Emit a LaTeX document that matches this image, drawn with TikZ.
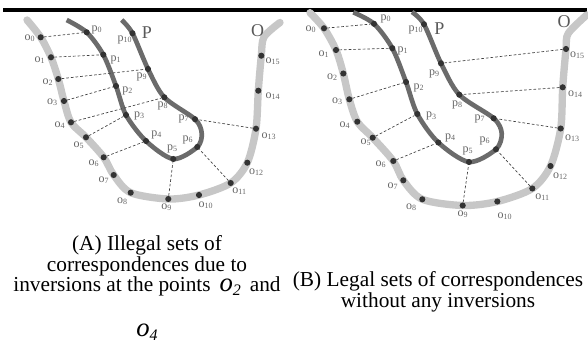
\documentclass[tikz,border=0pt]{standalone}
\usepackage{fontspec}
\setmainfont{Liberation Serif}
\usepackage{xcolor,tikz}

\newcommand{\ovar}[1]{{\fontsize{20}{20}\selectfont\textit{o}}{\fontsize{12}{12}\selectfont\raisebox{-3pt}{\textit{#1}}}}

\begin{document}
\begin{tikzpicture}[x=0.75pt,y=-0.75pt,
  ocurve/.style={line width=5.5pt,black!22,line cap=round},
  pcurve/.style={line width=3.5pt,black!58},
  ptdot/.style={circle,fill=black!80,inner sep=0pt,minimum size=4.6pt},
  lab/.style={text=black!60,inner sep=0pt,font=\fontsize{9}{10}\selectfont},
  biglab/.style={text=black!65,inner sep=0pt,font=\fontsize{13.5}{14}\selectfont},
  corr/.style={black!75,line width=0.5pt,dash pattern=on 2pt off 1.5pt},
  capt/.style={align=center,inner sep=0pt}]
\useasboundingbox (0,0) rectangle (588,349);
\draw[line width=3pt] (3,10.3) -- (587,10.3);

% (A) illegal correspondences
\foreach \i/\x/\y in {0/40.7/37.3,1/51/57.3,2/58.3/79,3/64/101,4/71/122.3,5/86/137.3,6/103.7/157.3,7/113.7/175,
  8/130.7/192.7,9/168.3/199,10/199/195,11/230.7/183,12/247.3/162.7,13/256/128.7,14/258.3/90.7,15/261.3/55.7}
  {\coordinate (cao\i) at (\x,\y);}
\foreach \i/\x/\y in {0/86.7/32.3,1/103.3/54.7,2/116/86,3/126/115,4/146/141,5/173.3/159,6/197.3/147,
  7/195/119.2,8/164.3/97.3,9/148/69,10/132.5/33.3}
  {\coordinate (cap\i) at (\x,\y);}
\draw[ocurve] plot[smooth] coordinates {(27,20) (cao0) (cao1) (cao2) (cao3) (cao4) (cao5) (cao6) (cao7)
  (cao8) (cao9) (cao10) (cao11) (cao12) (cao13) (cao14) (cao15) (264,37) (280,22.5)};
\draw[pcurve] plot[smooth] coordinates {(66.7,20) (cap0) (cap1) (cap2) (cap3) (cap4) (cap5) (cap6)
  (201.7,133.3) (cap7) (cap8) (cap9) (cap10) (121.7,20)};
\foreach \i in {0,...,15} {\node[ptdot] (ao\i) at (cao\i) {};}
\foreach \i in {0,...,10} {\node[ptdot] (ap\i) at (cap\i) {};}
\foreach \a/\b in {0/0,1/1,2/9,3/2,4/8,5/3,6/4,9/5,11/6,13/7} {\draw[corr] (ao\a) -- (ap\b);}
\foreach \i/\x/\y in {0/30/38,1/40/60,2/48/82,3/52.5/102.5,4/60/125.5,5/79/145,6/94/163,7/104/180,
  8/122.5/201.5,9/166.7/207,10/206/205,11/239.5/191.5,12/256.5/172,13/269/136.5,14/273/96.5,15/273/61.5}
  {\node[lab] (aol\i) at (\x,\y) {o\textsubscript{\i}};}
\foreach \i/\x/\y in {0/97/30,1/116/60,2/127.7/91,3/139.5/116,4/156.7/135,5/172.5/149,6/188/140,
  7/184/118.5,8/163/106,9/142/76.5,10/125/39.5}
  {\node[lab] (apl\i) at (\x,\y) {p\textsubscript{\i}};}
\node[biglab] (aP) at (147,32.5) {P};
\node[biglab] (aO) at (257.5,31) {O};

% (B) legal correspondences
\foreach \i/\x/\y in {0/324/28.3,1/336/50,2/343.3/73.5,3/349.3/99.3,4/357.3/121.7,5/372.7/137.7,6/393.3/161,
  7/403.3/180.3,8/422.3/199.3,9/462.7/205.5,10/497.3/201.5,11/532.3/188.5,12/550.5/166,13/560.7/128.5,
  14/562.7/87.3,15/566/49}
  {\coordinate (cbo\i) at (\x,\y);}
\foreach \i/\x/\y in {0/374/23.8,1/392.3/48.2,2/406/82,3/417.3/114,4/438.3/142.5,5/469/162,6/496/149.3,
  7/493.7/118.3,8/459.3/94.7,9/441/63.3,10/424/24.3}
  {\coordinate (cbp\i) at (\x,\y);}
\draw[ocurve] plot[smooth] coordinates {(310,12.7) (cbo0) (cbo1) (cbo2) (cbo3) (cbo4) (cbo5) (cbo6) (cbo7)
  (cbo8) (cbo9) (cbo10) (cbo11) (cbo12) (cbo13) (cbo14) (cbo15) (568.3,33.3) (586.7,15)};
\draw[pcurve] plot[smooth] coordinates {(353.3,12.3) (cbp0) (cbp1) (cbp2) (cbp3) (cbp4) (cbp5) (cbp6)
  (501.7,133.3) (cbp7) (cbp8) (cbp9) (cbp10) (412,12)};
\foreach \i in {0,...,15} {\node[ptdot] (bo\i) at (cbo\i) {};}
\foreach \i in {0,...,10} {\node[ptdot] (bp\i) at (cbp\i) {};}
\foreach \a/\b in {0/0,1/1,3/2,5/3,6/4,9/5,11/6,13/7,14/8,15/9} {\draw[corr] (bo\a) -- (bp\b);}
\foreach \i/\x/\y in {0/311/29,1/324/54,2/332.5/77.5,3/337.5/101,4/345/125,5/366/142.5,6/381/164,7/393/186,
  8/411.5/207.5,9/463/214.5,10/505/216,11/542.5/197.5,12/560.5/176,13/572.5/138,14/575.5/94,15/577.5/55}
  {\node[lab] (bol\i) at (\x,\y) {o\textsubscript{\i}};}
\foreach \i/\x/\y in {0/386/18.5,1/403/51,2/419/87.5,3/431.5/116.3,4/450.5/138,5/468/151,6/485/141,
  7/480/119,8/457.5/104.5,9/434.5/74,10/416/30}
  {\node[lab] (bpl\i) at (\x,\y) {p\textsubscript{\i}};}
\node[biglab] (bP) at (439.3,28.3) {P};
\node[biglab] (bO) at (564,21.7) {O};

% captions
\node[capt,anchor=north,font=\fontsize{16}{15.6}\selectfont] (capA) at (147,235)
 {(A) Illegal sets of\\correspondences due to\\inversions at the points \,\ovar{2}\, and\\[17.9pt]\ovar{4}};
\node[capt,anchor=north,font=\fontsize{16}{15.75}\selectfont] (capB) at (438,271)
 {(B) Legal sets of correspondences\\without any inversions};
\end{tikzpicture}
\end{document}
